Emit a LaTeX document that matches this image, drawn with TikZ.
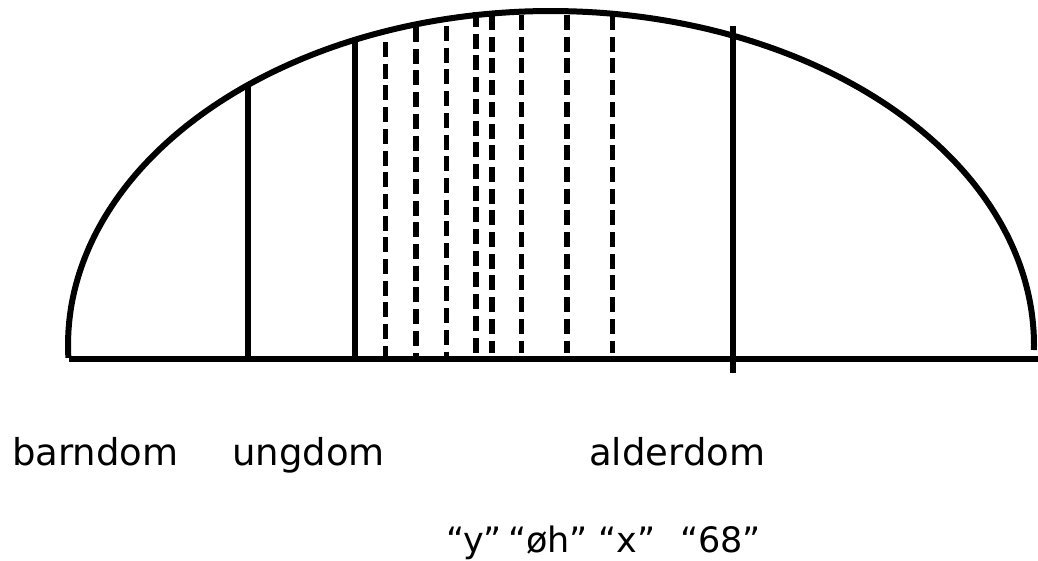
\documentclass[tikz,border=0pt]{standalone}
\usepackage{fontspec}
\setmainfont{DejaVu Sans}
\begin{document}
\begin{tikzpicture}[x=1pt,y=-1pt,
  arcline/.style={line width=6pt},
  solidline/.style={line width=5.5pt},
  dashline/.style={line width=5.5pt,dash pattern=on 15pt off 6.7pt},
  lbl/.style={anchor=base west,inner sep=0pt,font=\fontsize{37}{42}\selectfont},
  qlbl/.style={anchor=base west,inner sep=0pt,font=\fontsize{35}{40}\selectfont}]
\useasboundingbox (0,0) rectangle (1038,560);
% dome
\draw[arcline] plot[domain=182.2:-0.86,samples=200] ({551+483*cos(\x)},{345-334*sin(\x)});
% baseline
\coordinate (bl) at (69,358.5);
\coordinate (br) at (1040,358.5);
\draw[arcline] (bl) -- (br);
% solid verticals
\coordinate (s1t) at (248,87);  \coordinate (s1b) at (248,358);
\coordinate (s2t) at (355,42);  \coordinate (s2b) at (355,358);
\coordinate (s3t) at (733,26);  \coordinate (s3b) at (733,373);
\draw[solidline] (s1t) -- (s1b);
\draw[solidline] (s2t) -- (s2b);
\draw[solidline] (s3t) -- (s3b);
% dashed verticals
\foreach \xx/\yt/\yb in {385.5/42/358,416/27/358,446.5/26/358,476/12/353,492/15/353,521.5/15/353,567/15/353,612.5/15/353}{
  \draw[dashline] (\xx,\yt) -- (\xx,\yb);
}
% labels
\node[lbl] (barn) at (12,465) {barndom};
\node[lbl] (ung) at (232,465) {ungdom};
\node[lbl] (alder) at (589,465) {alderdom};
\node[qlbl] (qy) at (446,552) {“y”};
\node[qlbl] (qoh) at (508,552) {“øh”};
\node[qlbl] (qx) at (598,552) {“x”};
\node[qlbl] (q68) at (680,552) {“68”};
\end{tikzpicture}
\end{document}
